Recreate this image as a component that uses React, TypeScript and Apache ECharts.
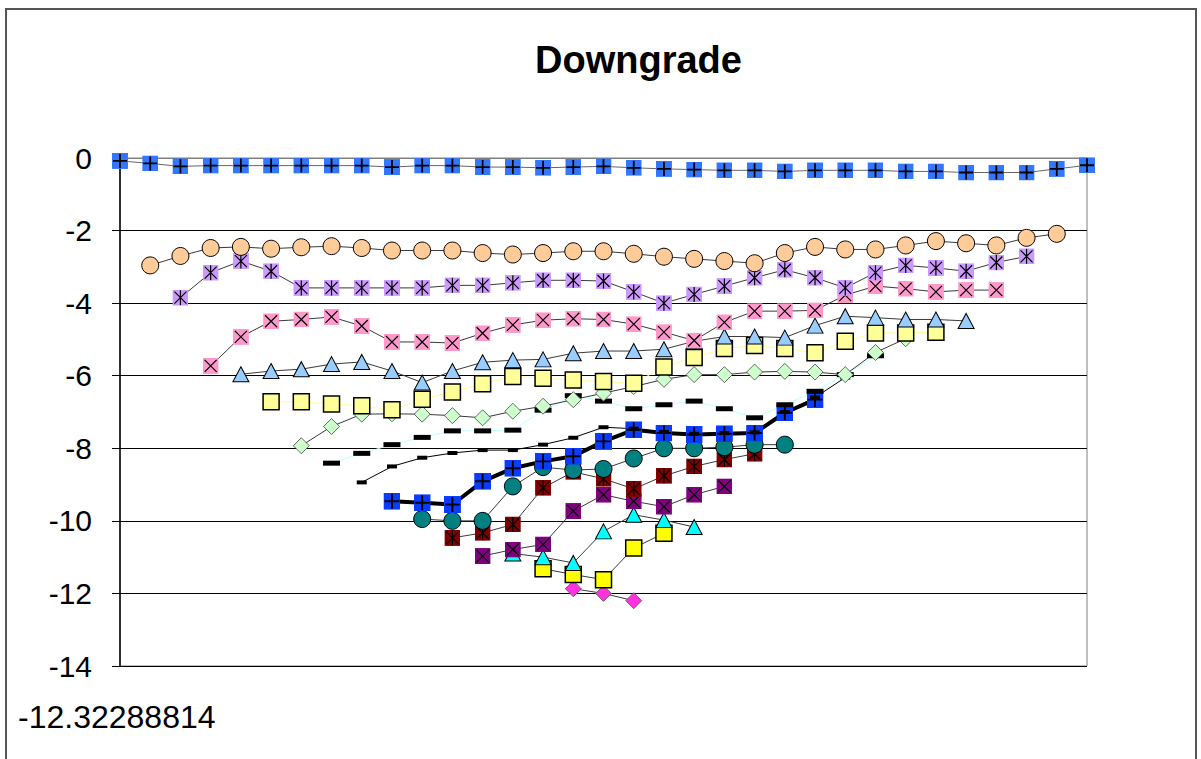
import React, { useEffect, useRef } from 'react';
import * as echarts from 'echarts';

const categories = ['1','2','3','4','5','6','7','8','9','10','11','12','13','14','15','16','17','18','19','20','21','22','23','24','25','26','27','28','29','30','31','32','33'];

const titleText = 'Downgrade';
const footLabel = '-12.32288814';

// each series: start category index + values
const startA = 0;
const sA = [-0.08,-0.15,-0.23,-0.21,-0.21,-0.21,-0.21,-0.21,-0.21,-0.25,-0.21,-0.21,-0.25,-0.25,-0.27,-0.25,-0.23,-0.27,-0.3,-0.32,-0.34,-0.34,-0.37,-0.34,-0.34,-0.34,-0.37,-0.37,-0.4,-0.4,-0.4,-0.3,-0.2];
const startB = 1;
const sB = [-2.96,-2.7,-2.48,-2.45,-2.5,-2.46,-2.43,-2.48,-2.55,-2.55,-2.55,-2.62,-2.66,-2.62,-2.57,-2.57,-2.64,-2.72,-2.78,-2.84,-2.9,-2.62,-2.45,-2.52,-2.52,-2.41,-2.29,-2.35,-2.41,-2.2,-2.09];
const startC = 2;
const sC = [-3.85,-3.16,-2.84,-3.12,-3.58,-3.58,-3.58,-3.58,-3.58,-3.51,-3.51,-3.44,-3.37,-3.37,-3.39,-3.69,-4.0,-3.76,-3.53,-3.3,-3.08,-3.3,-3.58,-3.16,-2.96,-3.03,-3.12,-2.88,-2.71];
const startD = 3;
const sD = [-5.73,-4.93,-4.5,-4.45,-4.38,-4.63,-5.07,-5.07,-5.1,-4.83,-4.6,-4.47,-4.43,-4.45,-4.58,-4.8,-5.03,-4.53,-4.22,-4.22,-4.2,-3.78,-3.53,-3.6,-3.69,-3.64,-3.64];
const startE = 4;
const sE = [-5.96,-5.87,-5.82,-5.68,-5.62,-5.87,-6.19,-5.87,-5.63,-5.57,-5.55,-5.38,-5.32,-5.32,-5.27,-5.05,-4.92,-4.92,-4.95,-4.62,-4.36,-4.4,-4.45,-4.45,-4.49];
const startF = 5;
const sF = [-6.72,-6.72,-6.78,-6.83,-6.94,-6.65,-6.45,-6.22,-6.02,-6.07,-6.12,-6.16,-6.21,-5.76,-5.5,-5.25,-5.17,-5.25,-5.37,-5.05,-4.82,-4.82,-4.8];
const startG = 6;
const sG = [-7.93,-7.4,-7.06,-7.05,-7.06,-7.1,-7.16,-6.98,-6.84,-6.66,-6.48,-6.3,-6.1,-5.97,-5.97,-5.9,-5.88,-5.9,-5.97,-5.36,-4.98];
const startH = 7;
const sH = [-8.41,-8.14,-7.9,-7.7,-7.52,-7.52,-7.5,-6.95,-6.55,-6.7,-6.91,-6.8,-6.7,-6.91,-7.16,-6.8,-6.43,-5.97,-5.45];
const startI = 8;
const sI = [-8.94,-8.5,-8.26,-8.13,-8.05,-8.05,-7.9,-7.71,-7.42,-7.46,-7.55,-7.6,-7.58,-7.56,-7.0,-6.6,-6.05];
const startJ = 9;
const sJ = [-9.46,-9.5,-9.55,-8.91,-8.55,-8.36,-8.22,-7.81,-7.49,-7.58,-7.62,-7.6,-7.58,-7.02,-6.66];
const startK = 10;
const sK = [-9.95,-10.0,-10.0,-9.05,-8.52,-8.6,-8.57,-8.28,-8.0,-8.0,-7.97,-7.9,-7.9];
const startL = 11;
const sL = [-10.47,-10.33,-10.1,-9.09,-8.65,-8.84,-9.12,-8.76,-8.5,-8.31,-8.15];
const startM = 12;
const sM = [-10.97,-10.79,-10.65,-9.73,-9.28,-9.46,-9.61,-9.28,-9.05];
const startN = 13;
const sN = [-10.9,-11.0,-11.16,-10.29,-9.83,-9.98,-10.17];
const startO = 14;
const sO = [-11.32,-11.48,-11.62,-10.75,-10.34];
const startP = 15;
const sP = [-11.87,-12.0,-12.2];

const FONT = '"Liberation Sans", Arial, sans-serif';

function crossSym(fill: string, kind: 'plus' | 'x' | 'star') {
  const paths: Record<string, string> = {
    plus: 'M8 1V15M1 8H15',
    x: 'M2 2L14 14M14 2L2 14',
    star: 'M8 0.5V15.5M2 2L14 14M14 2L2 14',
  };
  const sw = kind === 'plus' ? 1.8 : 1.2;
  const svg = `<svg xmlns="http://www.w3.org/2000/svg" width="16" height="16" viewBox="0 0 16 16"><rect width="16" height="16" fill="${fill}"/><path d="${paths[kind]}" stroke="#000" stroke-width="${sw}" fill="none"/></svg>`;
  return 'image://data:image/svg+xml;charset=utf-8,' + encodeURIComponent(svg);
}

function mk(name: string, start: number, vals: number[], o: any) {
  return {
    type: 'line',
    name,
    data: vals.map((v, k) => [categories[start + k], v]),
    symbol: o.symbol,
    symbolSize: o.size,
    showAllSymbol: true,
    itemStyle: o.item || { color: '#000' },
    lineStyle: { color: o.line || '#444', width: o.lw || 1 },
    emphasis: { disabled: true },
  };
}

const grey = '#3a3a3a';

const seriesDefs = [
  mk('A', startA, sA, { symbol: crossSym('#3377ff', 'plus'), size: 16, line: '#666' }),
  mk('B', startB, sB, { symbol: 'circle', size: 17, item: { color: '#ffcc99', borderColor: '#000', borderWidth: 1 }, line: grey }),
  mk('C', startC, sC, { symbol: crossSym('#cc99ff', 'star'), size: 16, line: grey }),
  mk('D', startD, sD, { symbol: crossSym('#ff99cc', 'x'), size: 16, line: grey }),
  mk('E', startE, sE, { symbol: 'triangle', size: [16, 15], item: { color: '#99ccff', borderColor: '#000', borderWidth: 1 }, line: grey }),
  mk('F', startF, sF, { symbol: 'rect', size: 16, item: { color: '#ffff99', borderColor: '#000', borderWidth: 1.5 }, line: '#ffff99' }),
  mk('G', startG, sG, { symbol: 'diamond', size: 16, item: { color: '#ccffcc', borderColor: '#444', borderWidth: 0.8 }, line: grey }),
  mk('H', startH, sH, { symbol: 'rect', size: [17, 5], item: { color: '#000' }, line: '#c0ffff' }),
  mk('I', startI, sI, { symbol: 'rect', size: [10, 4], item: { color: '#000' }, line: '#000' }),
  mk('J', startJ, sJ, { symbol: crossSym('#0a3cff', 'plus'), size: 17, line: '#000', lw: 4 }),
  mk('K', startK, sK, { symbol: 'circle', size: 17, item: { color: '#008080', borderColor: '#000', borderWidth: 1 }, line: grey }),
  mk('L', startL, sL, { symbol: crossSym('#800000', 'star'), size: 16, line: grey }),
  mk('M', startM, sM, { symbol: crossSym('#800080', 'x'), size: 16, line: grey }),
  mk('N', startN, sN, { symbol: 'triangle', size: [16, 15], item: { color: '#00ffff', borderColor: '#000', borderWidth: 1 }, line: grey }),
  mk('O', startO, sO, { symbol: 'rect', size: 16, item: { color: '#ffff00', borderColor: '#000', borderWidth: 1.5 }, line: grey }),
  mk('P', startP, sP, { symbol: 'diamond', size: 16, item: { color: '#ff33dd', borderColor: '#555', borderWidth: 0.8 }, line: grey }),
];

export default function App() {
  const ref = useRef<HTMLDivElement>(null);
  useEffect(() => {
    const chart = echarts.init(ref.current!, null, { renderer: 'svg' });
    chart.setOption({
      animation: false,
      backgroundColor: '#fff',
      title: {
        text: titleText,
        left: 530,
        top: 36,
        textStyle: { fontFamily: FONT, fontSize: 38, fontWeight: 'bold', color: '#000' },
      },
      grid: { left: 120, right: 114, top: 158, bottom: 93, show: true, borderColor: '#808080', borderWidth: 1 },
      xAxis: {
        type: 'category',
        data: categories,
        boundaryGap: false,
        axisLine: { show: true, lineStyle: { color: '#808080', width: 1 } },
        axisTick: { show: false },
        axisLabel: { show: false },
        splitLine: { show: false },
      },
      yAxis: {
        type: 'value',
        min: -14,
        max: 0,
        interval: 2,
        axisLine: { show: true, lineStyle: { color: '#000', width: 1.5 } },
        axisTick: { show: true, inside: false, length: 8, lineStyle: { color: '#000' } },
        axisLabel: { fontFamily: FONT, fontSize: 30, color: '#000', margin: 28 },
        splitLine: { show: true, lineStyle: { color: '#000', width: 1 } },
      },
      graphic: [
        { type: 'rect', shape: { x: 6, y: 9, width: 1190, height: 770 }, style: { fill: 'none', stroke: '#555', lineWidth: 2 }, silent: true },
        { type: 'text', left: 18, top: 701, style: { text: footLabel, font: `32px ${FONT}`, fill: '#000' }, silent: true },
      ],
      series: seriesDefs.slice().reverse(),
    });
    return () => chart.dispose();
  }, []);
  return <div ref={ref} style={{ position: 'fixed', left: 0, top: 0, width: 1201, height: 759, background: '#fff' }} />;
}
